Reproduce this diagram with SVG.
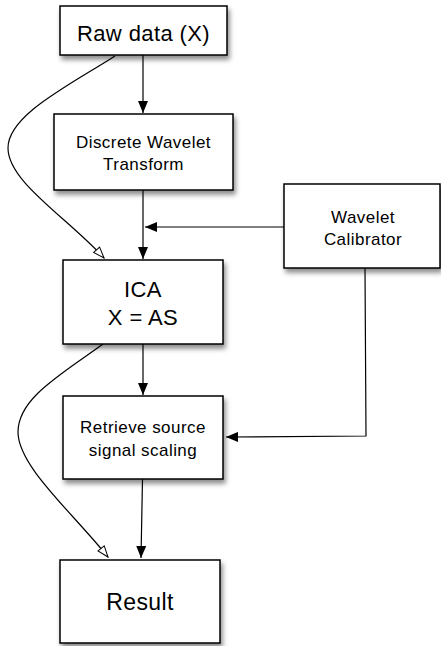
<svg xmlns="http://www.w3.org/2000/svg" width="441" height="646" viewBox="0 0 441 646">
  <style>
    .box { fill: #ffffff; stroke: #000000; stroke-width: 1.5; filter: url(#shadow); }
    .lbl { font-family: "Liberation Sans", Arial, Helvetica, sans-serif; fill: #000000; text-anchor: middle; }
    .big { font-size: 22px; letter-spacing: 0.4px; }
    .small { font-size: 17px; letter-spacing: 0.45px; }
    .edge { fill: none; stroke: #000000; stroke-width: 1.2; }
    .solid { marker-end: url(#arrowFilled); }
    .hollow { marker-end: url(#arrowOpen); }
  </style>
  <defs>
    <filter id="shadow" x="-20%" y="-20%" width="150%" height="160%">
      <feDropShadow dx="2" dy="4" stdDeviation="2.5" flood-color="#000000" flood-opacity="0.45"/>
    </filter>
    <marker id="arrowFilled" viewBox="0 0 12 10" refX="12" refY="5" markerWidth="12" markerHeight="10" markerUnits="userSpaceOnUse" orient="auto">
      <path d="M0,0 L12,5 L0,10 Z" fill="#000000"/>
    </marker>
    <marker id="arrowOpen" viewBox="0 0 13 10" refX="12" refY="5" markerWidth="13" markerHeight="10" markerUnits="userSpaceOnUse" orient="auto">
      <path d="M1,1 L12,5 L1,9 Z" fill="#ffffff" stroke="#000000" stroke-width="1"/>
    </marker>
  </defs>

  <!-- connectors -->
  <g id="connectors">
    <line class="edge solid" x1="143" y1="55" x2="143" y2="113"/>
    <line class="edge solid" x1="143" y1="190" x2="143" y2="259"/>
    <line class="edge solid" x1="284" y1="227" x2="145" y2="227"/>
    <path class="edge hollow" d="M115,56 C70,85 8,115 8,148 C8,182 68,218 104,258"/>
    <line class="edge solid" x1="143" y1="344" x2="143" y2="395"/>
    <polyline class="edge solid" points="365,268 366,436 226,437"/>
    <path class="edge hollow" d="M103,344 C62,374 18,398 18,432 C18,466 72,512 108,557"/>
    <line class="edge solid" x1="142.5" y1="479" x2="141" y2="558"/>
  </g>

  <!-- nodes -->
  <g id="raw-data">
    <rect class="box" x="60" y="6" width="167" height="49"/>
    <text class="lbl big" x="143.5" y="41">Raw data (X)</text>
  </g>

  <g id="dwt">
    <rect class="box" x="54" y="114" width="179" height="76"/>
    <text class="lbl small" x="143.5" y="148">Discrete Wavelet</text>
    <text class="lbl small" x="143.5" y="170">Transform</text>
  </g>

  <g id="calibrator">
    <rect class="box" x="284" y="184" width="156" height="84"/>
    <text class="lbl small" x="363" y="223">Wavelet</text>
    <text class="lbl small" x="363" y="245">Calibrator</text>
  </g>

  <g id="ica">
    <rect class="box" x="63" y="260" width="160" height="84"/>
    <text class="lbl big" x="143" y="297">ICA</text>
    <text class="lbl big" x="143" y="325">X = AS</text>
  </g>

  <g id="retrieve">
    <rect class="box" x="63" y="396" width="160" height="83"/>
    <text class="lbl small" x="143" y="433">Retrieve source</text>
    <text class="lbl small" x="143" y="456">signal scaling</text>
  </g>

  <g id="result">
    <rect class="box" x="60" y="560" width="160" height="83"/>
    <text class="lbl big" x="140" y="610" style="font-size:23px">Result</text>
  </g>
</svg>
